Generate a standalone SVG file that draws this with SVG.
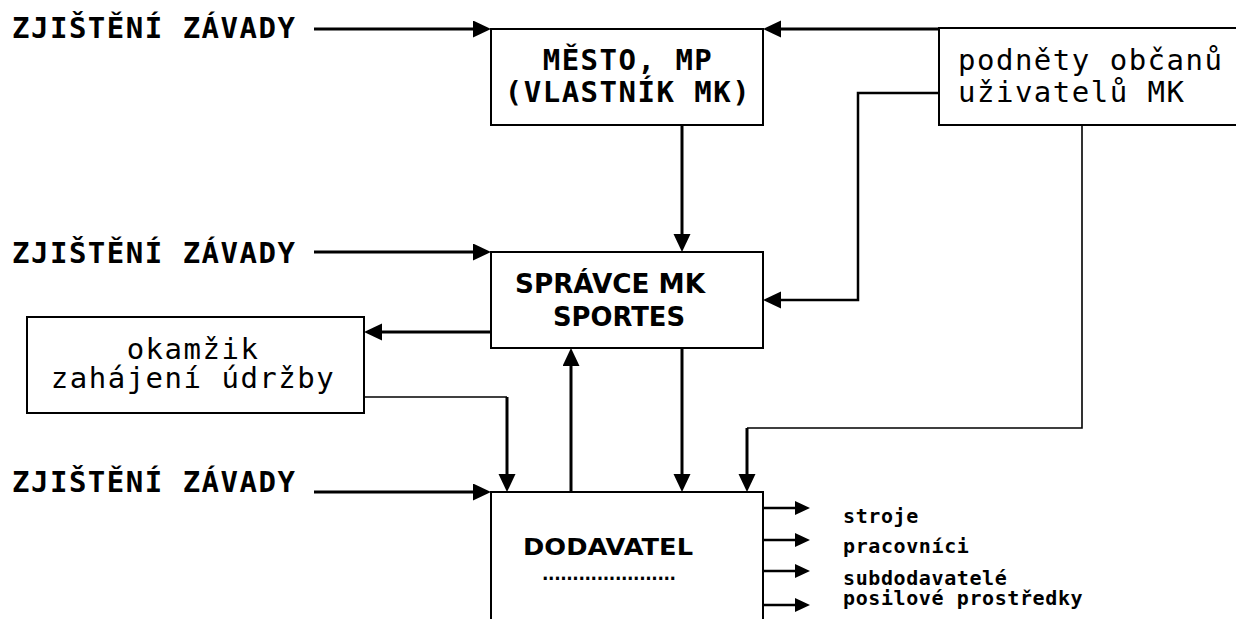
<svg xmlns="http://www.w3.org/2000/svg" width="1236" height="619" viewBox="0 0 1236 619">
<style>
.box{fill:#fff;stroke:#000;stroke-width:2}
.mono{font-family:"DejaVu Sans Mono","Liberation Mono",monospace;font-size:29px;letter-spacing:1.5px;fill:#000}
.b{font-weight:bold}
.sans{font-family:"DejaVu Sans","Liberation Sans",sans-serif;font-weight:bold;fill:#000}
.small{font-family:"DejaVu Sans Mono","Liberation Mono",monospace;font-size:20px;letter-spacing:0.6px;font-weight:bold;fill:#000}
.thick{fill:none;stroke:#000;stroke-width:3}
.thin{fill:none;stroke:#000;stroke-width:1.6}
.mid{fill:none;stroke:#000;stroke-width:2.5}
</style>
<defs>
<marker id="ah" markerUnits="userSpaceOnUse" markerWidth="19" markerHeight="18" refX="14" refY="8.5" orient="auto">
<path d="M0,0 L18,8.5 L0,17 z" fill="#000"/>
</marker>
<marker id="ahs" markerUnits="userSpaceOnUse" markerWidth="16" markerHeight="15" refX="11" refY="7" orient="auto">
<path d="M0,0 L15,7 L0,14 z" fill="#000"/>
</marker>
</defs>
<rect width="1236" height="619" fill="#fff"/>

<g id="zjisteni1"><text class="mono b" x="12" y="38">ZJIŠTĚNÍ ZÁVADY</text></g>
<g id="zjisteni2"><text class="mono b" x="12" y="263">ZJIŠTĚNÍ ZÁVADY</text></g>
<g id="zjisteni3"><text class="mono b" x="12" y="492">ZJIŠTĚNÍ ZÁVADY</text></g>

<g id="mesto">
<rect class="box" x="491" y="29" width="272" height="96"/>
<text class="mono b" x="628" y="70" text-anchor="middle">MĚSTO, MP</text>
<text class="mono b" x="628" y="102" text-anchor="middle">(VLASTNÍK MK)</text>
</g>

<g id="podnety">
<rect class="box" x="939" y="28" width="310" height="97"/>
<text class="mono" x="958" y="70">podněty občanů</text>
<text class="mono" x="958" y="102">uživatelů MK</text>
</g>

<g id="spravce">
<rect class="box" x="491" y="252" width="272" height="96"/>
<text class="sans" x="515" y="293" font-size="26" textLength="190" lengthAdjust="spacingAndGlyphs">SPRÁVCE MK</text>
<text class="sans" x="553" y="326" font-size="26" textLength="132" lengthAdjust="spacingAndGlyphs">SPORTES</text>
</g>

<g id="okamzik">
<rect class="box" x="27" y="317" width="337" height="96"/>
<text class="mono" x="193" y="359" text-anchor="middle">okamžik</text>
<text class="mono" x="193" y="388" text-anchor="middle">zahájení údržby</text>
</g>

<g id="dodavatel">
<path class="box" d="M491,630 V492 H763 V630"/>
<text class="sans" x="523" y="555" font-size="23" textLength="170" lengthAdjust="spacingAndGlyphs">DODAVATEL</text>
<text class="sans" x="542" y="580" font-size="17" textLength="134" lengthAdjust="spacing">......................</text>
</g>

<g id="outputs">
<text class="small" x="843" y="523">stroje</text>
<text class="small" x="843" y="553">pracovníci</text>
<text class="small" x="843" y="585">subdodavatelé</text>
<text class="small" x="843" y="605">posilové prostředky</text>
</g>

<g id="connectors">
<path class="thick" d="M314,29 H487" marker-end="url(#ah)"/>
<path class="thick" d="M314,252 H487" marker-end="url(#ah)"/>
<path class="thick" d="M314,492 H487" marker-end="url(#ah)"/>
<path class="thick" d="M939,29 H767" marker-end="url(#ah)"/>
<path class="thick" d="M682,125 V248" marker-end="url(#ah)"/>
<path class="mid" d="M939,93 H858 V300 H767" marker-end="url(#ah)"/>
<path class="thick" d="M491,332 H368" marker-end="url(#ah)"/>
<path class="thin" d="M364,397 H507"/>
<path class="thick" d="M507,397 V488" marker-end="url(#ah)"/>
<path class="thick" d="M682,348 V488" marker-end="url(#ah)"/>
<path class="thick" d="M571,492 V352" marker-end="url(#ah)"/>
<path class="thin" d="M1082,125 V428 H747"/>
<path class="thick" d="M747,428 V488" marker-end="url(#ah)"/>
<path class="mid" d="M763,508 H806" marker-end="url(#ahs)"/>
<path class="mid" d="M763,540 H806" marker-end="url(#ahs)"/>
<path class="mid" d="M763,571 H806" marker-end="url(#ahs)"/>
<path class="mid" d="M763,605 H806" marker-end="url(#ahs)"/>
</g>
</svg>
